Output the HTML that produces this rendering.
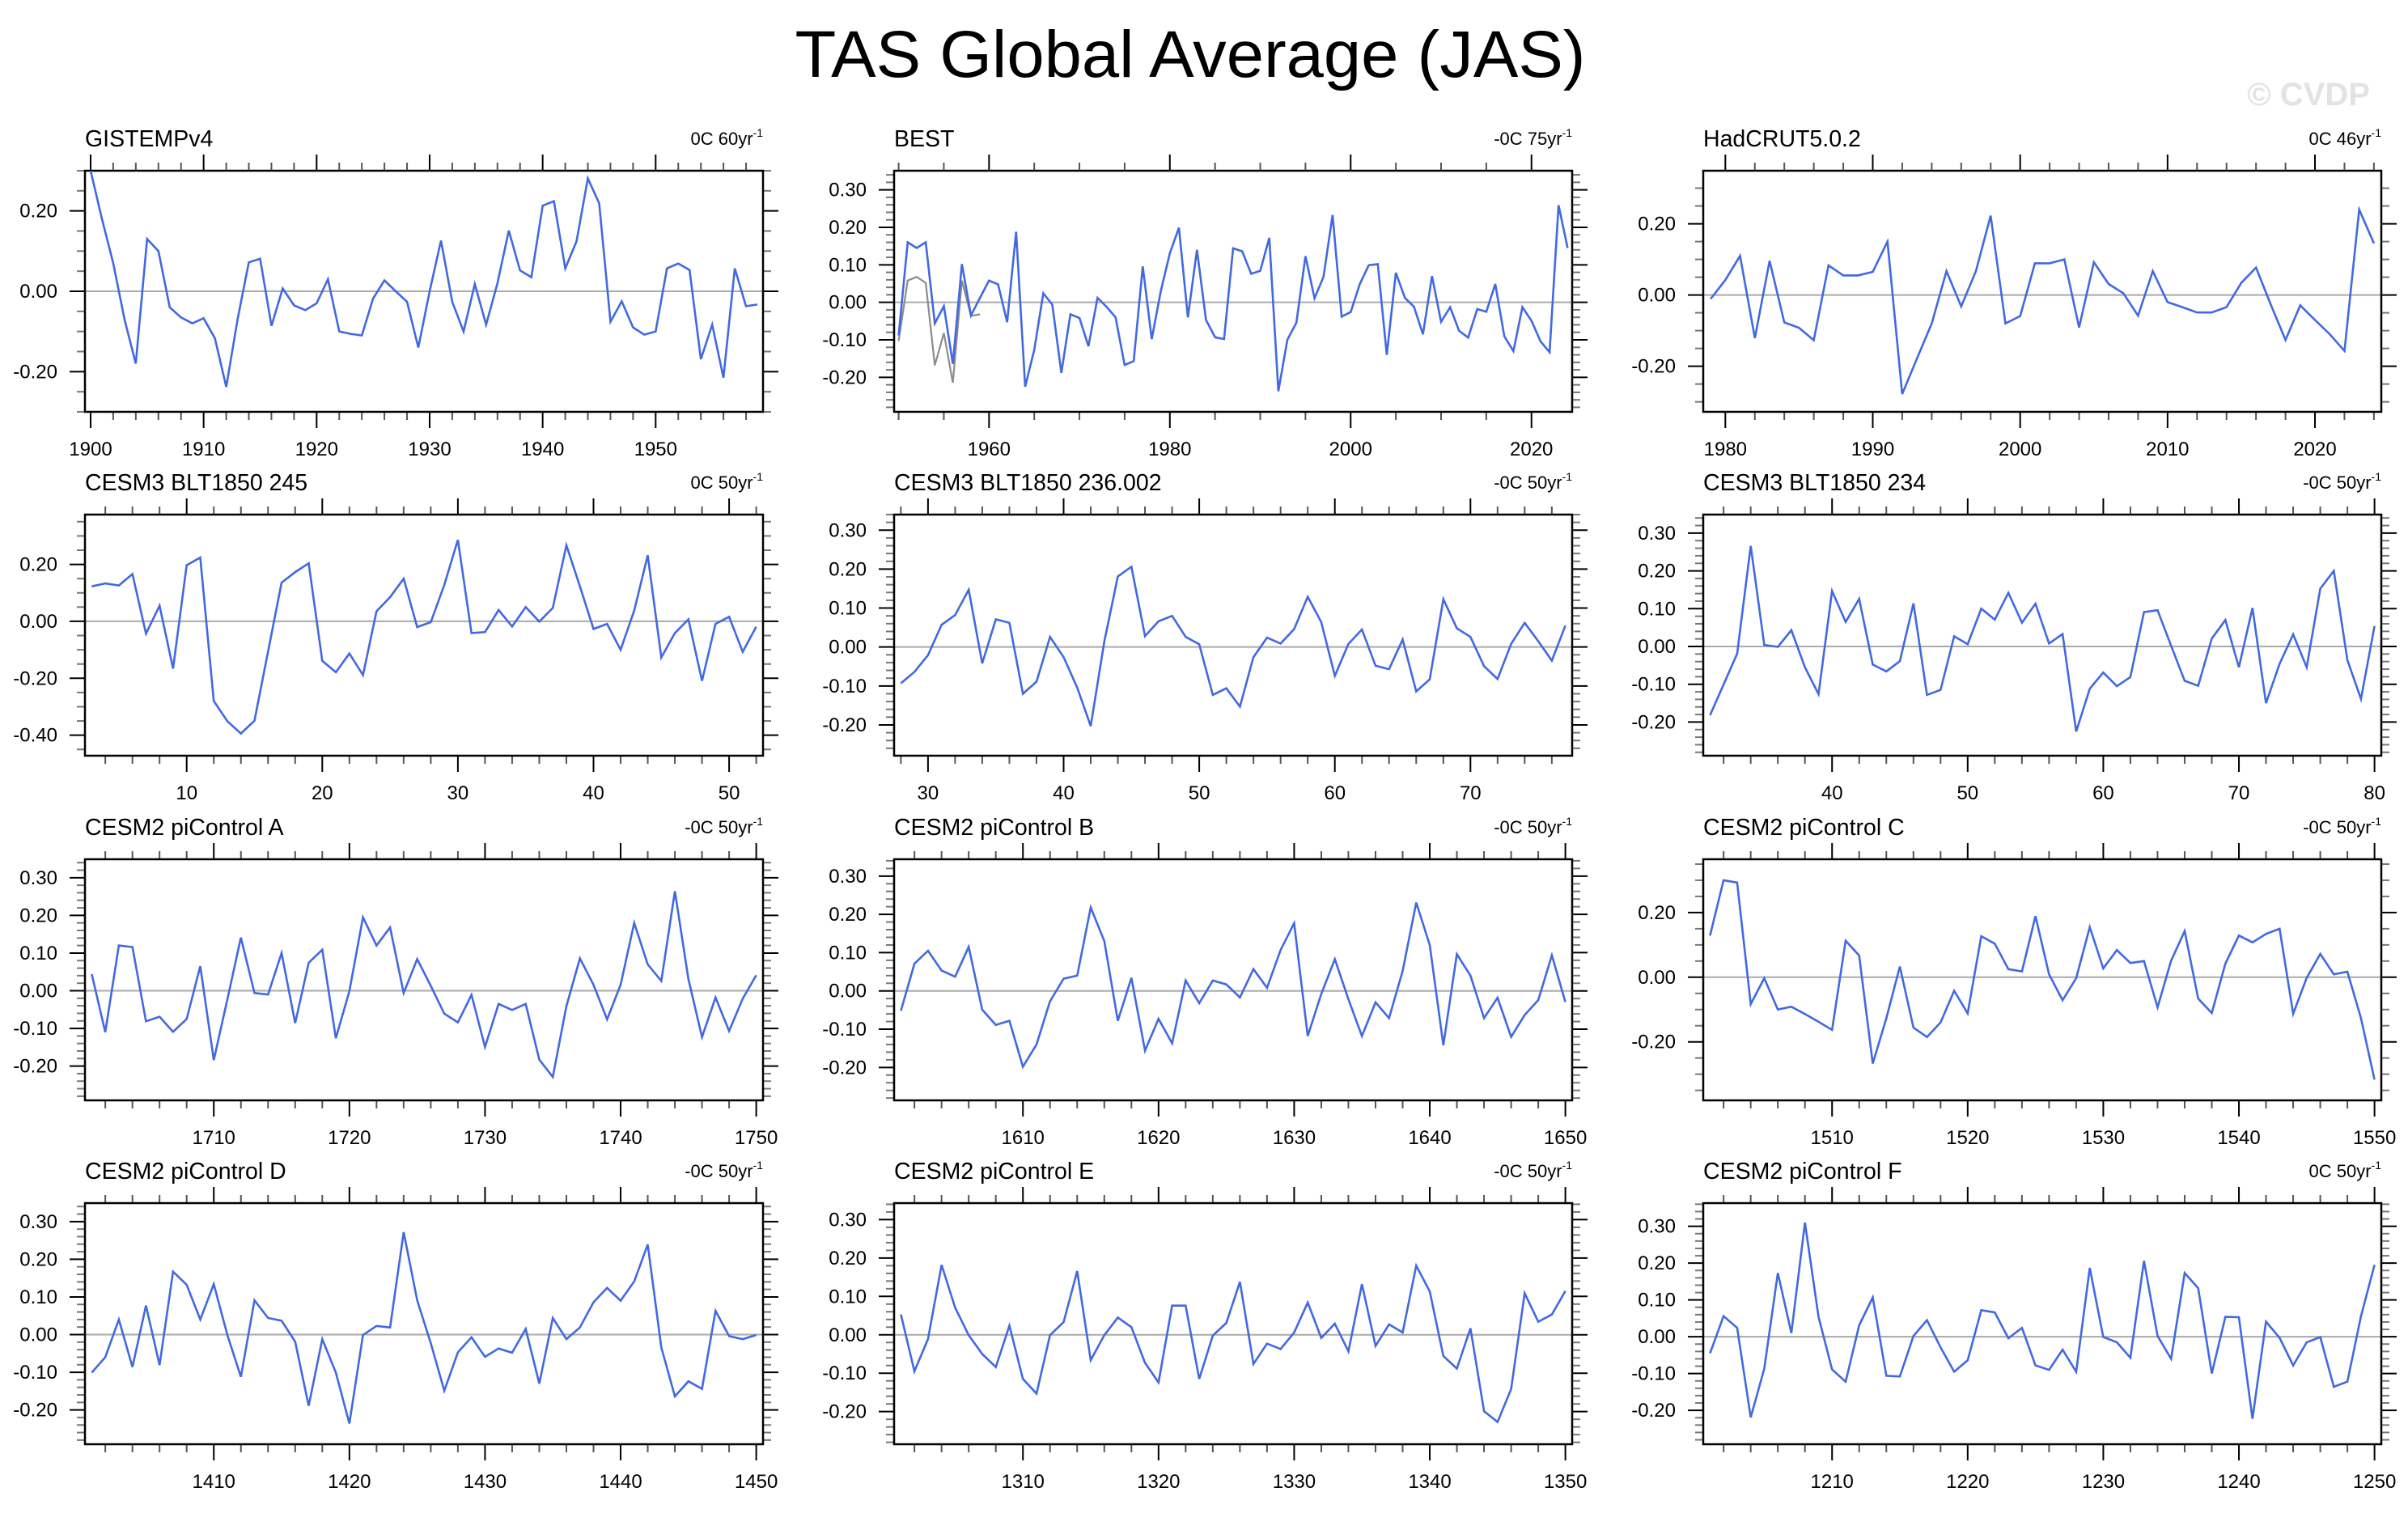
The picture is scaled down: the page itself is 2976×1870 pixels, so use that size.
<!DOCTYPE html>
<html><head><meta charset="utf-8"><title>TAS Global Average (JAS)</title>
<style>html,body{margin:0;padding:0;background:#fff}svg{display:block}text{font-family:"Liberation Sans",Arial,sans-serif}</style>
</head><body>
<svg id="chart" xmlns="http://www.w3.org/2000/svg" width="2976" height="1870" viewBox="0 0 2976 1870">
<rect x="0" y="0" width="2976" height="1870" fill="#fff"/>
<text x="1471" y="95" font-size="82" text-anchor="middle" textLength="977" lengthAdjust="spacingAndGlyphs">TAS Global Average (JAS)</text>
<text x="2929" y="130" font-size="40" font-weight="bold" fill="#e3e3e3" text-anchor="end">© CVDP</text>
</svg>
<script>
const gisYears0 = 1900;
const gisVals = [0.30,0.18,0.07,-0.07,-0.18,0.13,0.10,-0.04,-0.065,-0.08,-0.067,-0.117,-0.238,-0.07,0.072,0.081,-0.086,0.007,-0.035,-0.047,-0.03,0.03,-0.10,-0.106,-0.11,-0.018,0.027,0.0,-0.026,-0.14,0.0,0.126,-0.026,-0.10,0.018,-0.083,0.02,0.151,0.052,0.035,0.213,0.224,0.057,0.124,0.281,0.219,-0.076,-0.025,-0.09,-0.108,-0.10,0.057,0.069,0.053,-0.169,-0.083,-0.215,0.057,-0.037,-0.033];
const bestYears0 = 1950;
const bestVals = [-0.088,0.16,0.145,0.16,-0.056,-0.01,-0.164,0.102,-0.035,0.012,0.058,0.048,-0.053,0.188,-0.225,-0.127,0.024,-0.006,-0.188,-0.032,-0.042,-0.117,0.012,-0.012,-0.04,-0.167,-0.157,0.096,-0.098,0.03,0.131,0.199,-0.04,0.14,-0.047,-0.093,-0.098,0.144,0.136,0.076,0.084,0.172,-0.237,-0.10,-0.054,0.123,0.011,0.068,0.233,-0.038,-0.026,0.048,0.099,0.102,-0.14,0.079,0.012,-0.012,-0.085,0.07,-0.052,-0.013,-0.076,-0.094,-0.018,-0.025,0.049,-0.091,-0.13,-0.013,-0.049,-0.104,-0.133,0.259,0.145];
const bestGrayVals = [-0.103,0.058,0.068,0.052,-0.168,-0.082,-0.214,0.058,-0.036,-0.032];
const hadYears0 = 1979;
const hadVals = [-0.011,0.042,0.11,-0.121,0.096,-0.077,-0.092,-0.127,0.083,0.055,0.055,0.065,0.15,-0.278,-0.178,-0.08,0.067,-0.032,0.067,0.223,-0.08,-0.059,0.089,0.089,0.10,-0.091,0.092,0.031,0.005,-0.058,0.067,-0.02,-0.034,-0.049,-0.049,-0.034,0.034,0.077,-0.027,-0.126,-0.029,-0.07,-0.11,-0.157,0.24,0.145];
const c245Years0 = 3;
const c245Vals = [0.123,0.133,0.126,0.166,-0.043,0.055,-0.166,0.197,0.224,-0.28,-0.351,-0.394,-0.349,-0.106,0.136,0.173,0.204,-0.139,-0.179,-0.113,-0.189,0.035,0.085,0.15,-0.02,-0.003,0.128,0.286,-0.041,-0.038,0.04,-0.018,0.05,-0.001,0.047,0.267,0.123,-0.027,-0.009,-0.1,0.038,0.232,-0.127,-0.041,0.007,-0.209,-0.009,0.016,-0.107,-0.019];
const c236Years0 = 28;
const c236Vals = [-0.093,-0.064,-0.021,0.057,0.082,0.147,-0.042,0.071,0.062,-0.12,-0.089,0.026,-0.026,-0.104,-0.203,0.014,0.181,0.206,0.028,0.066,0.08,0.026,0.007,-0.123,-0.106,-0.153,-0.026,0.024,0.009,0.046,0.129,0.064,-0.074,0.008,0.045,-0.048,-0.057,0.019,-0.114,-0.083,0.123,0.048,0.026,-0.049,-0.082,0.008,0.062,0.015,-0.035,0.055];
const c234Years0 = 31;
const c234Vals = [-0.182,-0.101,-0.019,0.266,0.004,-0.001,0.043,-0.055,-0.126,0.147,0.065,0.126,-0.048,-0.066,-0.039,0.114,-0.128,-0.115,0.027,0.006,0.10,0.071,0.142,0.063,0.113,0.008,0.033,-0.225,-0.112,-0.069,-0.105,-0.081,0.091,0.096,0.002,-0.091,-0.104,0.021,0.07,-0.055,0.102,-0.15,-0.046,0.032,-0.055,0.153,0.20,-0.036,-0.139,0.054];
const piAYears0 = 1701;
const piAVals = [0.044,-0.11,0.12,0.116,-0.081,-0.069,-0.109,-0.075,0.065,-0.184,-0.023,0.141,-0.006,-0.01,0.10,-0.086,0.074,0.109,-0.126,-0.001,0.195,0.12,0.168,-0.006,0.084,0.013,-0.061,-0.084,-0.011,-0.149,-0.035,-0.051,-0.035,-0.183,-0.229,-0.041,0.086,0.016,-0.076,0.016,0.18,0.07,0.026,0.264,0.031,-0.123,-0.018,-0.107,-0.021,0.041];
const piBYears0 = 1601;
const piBVals = [-0.052,0.071,0.105,0.053,0.037,0.115,-0.049,-0.089,-0.078,-0.198,-0.14,-0.027,0.032,0.04,0.218,0.13,-0.078,0.034,-0.156,-0.073,-0.137,0.027,-0.032,0.027,0.017,-0.017,0.057,0.008,0.107,0.177,-0.118,-0.008,0.083,-0.022,-0.118,-0.03,-0.071,0.052,0.231,0.12,-0.142,0.096,0.04,-0.071,-0.018,-0.12,-0.063,-0.024,0.093,-0.029];
const piCYears0 = 1501;
const piCVals = [0.129,0.30,0.293,-0.083,-0.003,-0.10,-0.091,-0.114,-0.138,-0.163,0.113,0.067,-0.267,-0.127,0.033,-0.156,-0.185,-0.14,-0.042,-0.112,0.127,0.104,0.025,0.018,0.189,0.009,-0.071,-0.003,0.155,0.027,0.084,0.044,0.05,-0.093,0.051,0.143,-0.066,-0.111,0.042,0.129,0.108,0.134,0.15,-0.113,-0.002,0.072,0.009,0.017,-0.127,-0.317];
const piDYears0 = 1401;
const piDVals = [-0.101,-0.06,0.04,-0.086,0.077,-0.081,0.167,0.132,0.04,0.134,-0.001,-0.112,0.091,0.044,0.037,-0.019,-0.189,-0.012,-0.101,-0.236,-0.001,0.023,0.019,0.272,0.091,-0.023,-0.149,-0.047,-0.007,-0.059,-0.037,-0.048,0.015,-0.13,0.044,-0.012,0.019,0.086,0.124,0.09,0.141,0.239,-0.034,-0.164,-0.124,-0.144,0.063,-0.004,-0.012,-0.001];
const piEYears0 = 1301;
const piEVals = [0.053,-0.095,-0.011,0.182,0.071,-0.001,-0.05,-0.084,0.024,-0.115,-0.153,-0.001,0.033,0.166,-0.066,-0.001,0.045,0.02,-0.073,-0.124,0.076,0.076,-0.115,-0.002,0.031,0.138,-0.076,-0.023,-0.037,0.006,0.084,-0.008,0.029,-0.043,0.132,-0.029,0.027,0.006,0.18,0.113,-0.055,-0.088,0.017,-0.199,-0.227,-0.141,0.108,0.034,0.053,0.114];
const piFYears0 = 1201;
const piFVals = [-0.045,0.056,0.024,-0.219,-0.087,0.173,0.01,0.31,0.054,-0.089,-0.122,0.031,0.107,-0.106,-0.108,0.002,0.045,-0.029,-0.095,-0.064,0.072,0.066,-0.004,0.024,-0.078,-0.09,-0.035,-0.095,0.187,-0.001,-0.015,-0.057,0.206,0.002,-0.06,0.173,0.132,-0.10,0.054,0.053,-0.223,0.041,-0.003,-0.078,-0.015,-0.001,-0.136,-0.122,0.056,0.195];

const panelTitles = ["GISTEMPv4","BEST","HadCRUT5.0.2","CESM3 BLT1850 245","CESM3 BLT1850 236.002","CESM3 BLT1850 234","CESM2 piControl A","CESM2 piControl B","CESM2 piControl C","CESM2 piControl D","CESM2 piControl E","CESM2 piControl F"];
const panelSubs = ["0C 60yr","-0C 75yr","0C 46yr","0C 50yr","-0C 50yr","-0C 50yr","-0C 50yr","-0C 50yr","-0C 50yr","-0C 50yr","-0C 50yr","0C 50yr"];

const NS = "http://www.w3.org/2000/svg";
const svg = document.getElementById('chart');
const colX = [105, 1105, 2105], rowY = [211, 636, 1062, 1487];
const BW = 838, BH = 298;

const panels = [
 {v:gisVals, x0:gisYears0, yr:[-0.3,0.3], yM:0.2, ym:0.05, xM:10, xm:2},
 {v:bestVals, x0:bestYears0, yr:[-0.292,0.351], yM:0.1, ym:0.02, xM:20, xm:5, gray:bestGrayVals},
 {v:hadVals, x0:hadYears0, yr:[-0.328,0.349], yM:0.2, ym:0.05, xM:10, xm:2},
 {v:c245Vals, x0:c245Years0, yr:[-0.472,0.375], yM:0.2, ym:0.05, xM:10, xm:2},
 {v:c236Vals, x0:c236Years0, yr:[-0.279,0.34], yM:0.1, ym:0.02, xM:10, xm:2},
 {v:c234Vals, x0:c234Years0, yr:[-0.289,0.349], yM:0.1, ym:0.02, xM:10, xm:2},
 {v:piAVals, x0:piAYears0, yr:[-0.291,0.349], yM:0.1, ym:0.02, xM:10, xm:2},
 {v:piBVals, x0:piBYears0, yr:[-0.286,0.344], yM:0.1, ym:0.02, xM:10, xm:2},
 {v:piCVals, x0:piCYears0, yr:[-0.381,0.365], yM:0.2, ym:0.05, xM:10, xm:2},
 {v:piDVals, x0:piDYears0, yr:[-0.291,0.349], yM:0.1, ym:0.02, xM:10, xm:2},
 {v:piEVals, x0:piEYears0, yr:[-0.285,0.343], yM:0.1, ym:0.02, xM:10, xm:2},
 {v:piFVals, x0:piFYears0, yr:[-0.292,0.363], yM:0.1, ym:0.02, xM:10, xm:2}
];

function mk(tag, attrs, parent){
  const e = document.createElementNS(NS, tag);
  for (const k in attrs) e.setAttribute(k, attrs[k]);
  (parent||svg).appendChild(e);
  return e;
}

panels.forEach((p, i) => {
  const L = colX[i%3], T = rowY[Math.floor(i/3)], R = L+BW, B = T+BH;
  const xmin = p.x0 - 0.5, xmax = p.x0 + p.v.length - 0.5;
  const xs = x => L + (x - xmin)/(xmax - xmin)*BW;
  const ys = y => B - (y - p.yr[0])/(p.yr[1]-p.yr[0])*BH;
  const g = mk('g', {});
  
  

  const title = mk('text', {x:L, y:T-30, 'font-size':28.5}, g);
  title.textContent = panelTitles[i];
  
  
  const sub = mk('text', {x:R, y:T-32, 'font-size':22, 'text-anchor':'end'}, g);
  
  
  sub.appendChild(document.createTextNode(panelSubs[i]));
  const sup = mk('tspan', {dy:-10, 'font-size':14}, sub);
  sup.textContent = '-1';

  const z = mk('line', {x1:L, x2:R, y1:ys(0), y2:ys(0), stroke:'#aaaaaa', 'stroke-width':2}, g);
  
  

  const eps = 1e-6;
  for (let t = Math.ceil(xmin/p.xm)*p.xm; t <= xmax+eps; t += p.xm) {
    const major = Math.abs(t/p.xM - Math.round(t/p.xM)) < eps;
    const len = major ? 20 : 10, X = xs(t);
    mk('line', {x1:X, x2:X, y1:T, y2:T-len, stroke:major?'#000':'#555', 'stroke-width':2}, g);
    mk('line', {x1:X, x2:X, y1:B, y2:B+len, stroke:major?'#000':'#555', 'stroke-width':2}, g);
    if (major) {
      const tl = mk('text', {x:X, y:B+54, 'font-size':24, 'text-anchor':'middle'}, g);
      tl.textContent = String(Math.round(t));
      
      
    }
  }
  for (let t = Math.ceil(p.yr[0]/p.ym - eps)*p.ym; t <= p.yr[1]+eps; t += p.ym) {
    const major = Math.abs(t/p.yM - Math.round(t/p.yM)) < 1e-4;
    const len = major ? 19 : 10, Y = ys(t);
    mk('line', {x1:L, x2:L-len, y1:Y, y2:Y, stroke:major?'#000':'#777', 'stroke-width':2}, g);
    mk('line', {x1:R, x2:R+len, y1:Y, y2:Y, stroke:major?'#000':'#777', 'stroke-width':2}, g);
    if (major) {
      const v = Math.round(t*100)/100;
      const tl = mk('text', {x:L-34, y:Y+8, 'font-size':24, 'text-anchor':'end'}, g);
      tl.textContent = (Math.abs(v) < 1e-9 ? 0 : v).toFixed(2);
      
      
    }
  }
  const box = mk('rect', {x:L, y:T, width:BW, height:BH, fill:'none', stroke:'#000', 'stroke-width':2.5}, g);
  
  

  if (p.gray) {
    const gp = p.gray.map((v, k) => xs(p.x0 + k).toFixed(1) + ',' + ys(v).toFixed(1)).join(' ');
    const gl = mk('polyline', {points:gp, fill:'none', stroke:'#8c8c8c', 'stroke-width':2.2}, g);
    
    
  }
  const pts = p.v.map((v, k) => xs(p.x0 + k).toFixed(1) + ',' + ys(v).toFixed(1)).join(' ');
  const pl = mk('polyline', {points:pts, fill:'none', stroke:'#4169e1', 'stroke-width':2.6, 'stroke-linejoin':'miter'}, g);
  
  
});
</script>
</body></html>
